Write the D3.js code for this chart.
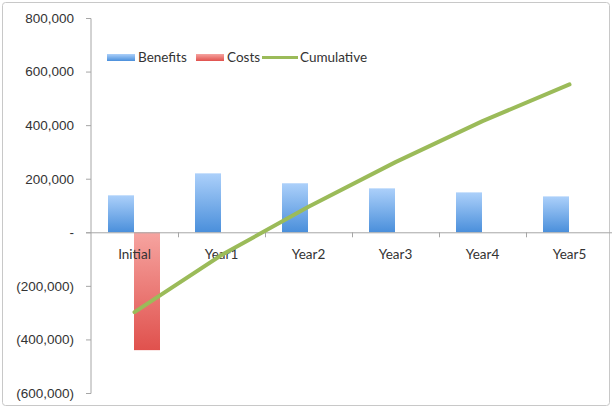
<!DOCTYPE html>
<meta charset="utf-8">
<style>
    body { margin: 0; background: #fff; font-family: Lato, "Open Sans", sans-serif; }
    text { fill: #333; font-size: 13.5px; }
</style>
<body>
<script src="https://d3js.org/d3.v7.min.js"></script>
<script>

var categories = ["Initial", "Year1", "Year2", "Year3", "Year4", "Year5"];
var benefits = [138000, 220000, 183000, 164000, 149000, 134000];
var costs = [-440000, 0, 0, 0, 0, 0];
var cumulative = [-298000, -85000, 95000, 262000, 415000, 552000];
var yTicks = [800000, 600000, 400000, 200000, 0, -200000, -400000, -600000];

var width = 612, height = 408;

var svg = d3.select("body").append("svg")
    .attr("width", width)
    .attr("height", height);

// gradients
var defs = svg.append("defs");
var gb = defs.append("linearGradient").attr("id", "gBlue")
    .attr("x1", 0).attr("y1", 0).attr("x2", 0).attr("y2", 1);
gb.append("stop").attr("offset", "0%").attr("stop-color", "#acd0fa");
gb.append("stop").attr("offset", "100%").attr("stop-color", "#4a8fdb");
var gr = defs.append("linearGradient").attr("id", "gRed")
    .attr("x1", 0).attr("y1", 0).attr("x2", 0).attr("y2", 1);
gr.append("stop").attr("offset", "0%").attr("stop-color", "#f6a4a0");
gr.append("stop").attr("offset", "100%").attr("stop-color", "#e0514d");

// outer border
svg.append("rect")
    .attr("x", 2.5).attr("y", 2.5)
    .attr("width", width - 5).attr("height", height - 5)
    .attr("rx", 3)
    .attr("fill", "none")
    .attr("stroke", "#c8c8c8");

var x = d3.scaleBand()
    .domain(categories)
    .range([91, 613]);

var inner = d3.scaleBand()
    .domain(["b", "c"])
    .range([17, 69]);

var y = d3.scaleLinear()
    .domain([-600000, 800000])
    .range([393, 18]);

function fmt(v) {
    if (v === 0) return "-";
    var s = d3.format(",")(Math.abs(v));
    return v < 0 ? "(" + s + ")" : s;
}

// y axis
var yAxis = svg.append("g")
    .attr("transform", "translate(91,0)")
    .call(d3.axisLeft(y).tickValues(yTicks).tickFormat(fmt).tickSize(5).tickPadding(12));
yAxis.select(".domain").attr("stroke", "#a6a6a6").attr("d", "M-5,18.5H0V393.5H-5");
yAxis.selectAll(".tick line").attr("stroke", "#a6a6a6");
yAxis.selectAll(".tick text").style("font-size", "13.5px").attr("fill", "#333");

// bars
svg.selectAll(".benefit")
    .data(benefits)
  .enter().append("rect")
    .attr("class", "benefit")
    .attr("x", function(d, i) { return x(categories[i]) + inner("b"); })
    .attr("width", inner.bandwidth())
    .attr("y", function(d) { return y(d); })
    .attr("height", function(d) { return y(0) - y(d); })
    .attr("fill", "url(#gBlue)");

svg.selectAll(".cost")
    .data(costs)
  .enter().append("rect")
    .attr("class", "cost")
    .attr("x", function(d, i) { return x(categories[i]) + inner("c"); })
    .attr("width", inner.bandwidth())
    .attr("y", y(0))
    .attr("height", function(d) { return y(d) - y(0); })
    .attr("fill", "url(#gRed)");

// x axis
var xAxisG = svg.append("g");
xAxisG.append("line")
    .attr("x1", 86).attr("x2", 613)
    .attr("y1", y(0) + 0.5).attr("y2", y(0) + 0.5)
    .attr("stroke", "#a6a6a6");
xAxisG.selectAll(".xt")
    .data(categories.slice(1))
  .enter().append("line")
    .attr("x1", function(d) { return Math.round(x(d)) + 0.5; })
    .attr("x2", function(d) { return Math.round(x(d)) + 0.5; })
    .attr("y1", y(0)).attr("y2", y(0) + 5)
    .attr("stroke", "#a6a6a6");
xAxisG.selectAll(".xl")
    .data(categories)
  .enter().append("text")
    .attr("x", function(d) { return x(d) + x.bandwidth() / 2; })
    .attr("y", y(0) + 27)
    .attr("text-anchor", "middle")
    .text(function(d) { return d; });

// cumulative line
var line = d3.line()
    .x(function(d, i) { return x(categories[i]) + x.bandwidth() / 2; })
    .y(function(d) { return y(d); });

svg.append("path")
    .datum(cumulative)
    .attr("d", line)
    .attr("fill", "none")
    .attr("stroke", "#9bbb59")
    .attr("stroke-width", 4)
    .attr("stroke-linecap", "round")
    .attr("stroke-linejoin", "round");

// legend
var lg = svg.append("g").attr("transform", "translate(107,57)");
lg.append("rect").attr("x", 0).attr("y", -3).attr("width", 28).attr("height", 7).attr("fill", "url(#gBlue)");
lg.append("text").attr("x", 31).attr("y", 5).text("Benefits");
lg.append("rect").attr("x", 89).attr("y", -3).attr("width", 28).attr("height", 7).attr("fill", "url(#gRed)");
lg.append("text").attr("x", 120).attr("y", 5).text("Costs");
lg.append("line").attr("x1", 155).attr("x2", 191).attr("y1", 0.5).attr("y2", 0.5)
    .attr("stroke", "#9bbb59").attr("stroke-width", 3);
lg.append("text").attr("x", 193).attr("y", 5).text("Cumulative");

</script>
</body>
